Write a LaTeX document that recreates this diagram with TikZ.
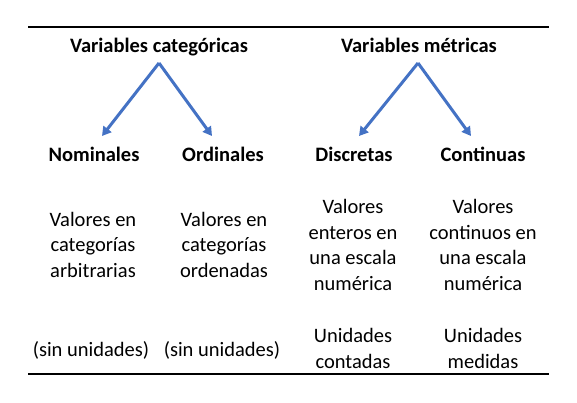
\documentclass[tikz,border=0pt]{standalone}
\usepackage{fontspec}
\setmainfont{Carlito}
\usetikzlibrary{arrows.meta}
\definecolor{arrowblue}{HTML}{4472C4}
\begin{document}
\begin{tikzpicture}[x=1pt,y=-1pt,
  txt/.style={font=\fontsize{20.5}{25.5}\selectfont, align=center, inner sep=0pt, anchor=base},
  head/.style={txt, font=\fontsize{20.5}{25.5}\selectfont\bfseries},
  rule/.style={line width=2pt, black},
  branch/.style={line width=3pt, arrowblue, -{Triangle[length=9pt,width=10pt]}}]
\useasboundingbox (0,0) rectangle (577,402);
\draw[rule] (28,27) coordinate (tl) -- (549,27) coordinate (tr);
\draw[rule] (28,374) coordinate (bl) -- (549,374) coordinate (br);

\node[head] (cat) at (159,52) {Variables categóricas};
\node[head] (met) at (419,52) {Variables métricas};

\node[head] (nom) at (94,161) {Nominales};
\node[head] (ord) at (223,161) {Ordinales};
\node[head] (dis) at (354,161) {Discretas};
\node[head] (con) at (483,161) {Continuas};

\coordinate (apexC) at (159,63);
\coordinate (tipN) at (102,136);
\coordinate (tipO) at (212,136);
\coordinate (apexM) at (418,63);
\coordinate (tipD) at (359,136);
\coordinate (tipK) at (471,136);
\draw[branch] (apexC) -- (tipN);
\draw[branch] (apexC) -- (tipO);
\draw[branch] (apexM) -- (tipD);
\draw[branch] (apexM) -- (tipK);

\node[txt] (nomd) at (93,277) {Valores en\\categorías\\arbitrarias};
\node[txt] (ordd) at (224,277) {Valores en\\categorías\\ordenadas};
\node[txt] (disd) at (353,290) {Valores\\enteros en\\una escala\\numérica};
\node[txt] (cond) at (483,290) {Valores\\continuos en\\una escala\\numérica};

\node[txt] (nomu) at (91,356) {(sin unidades)};
\node[txt] (ordu) at (222,356) {(sin unidades)};
\node[txt] (disu) at (353,368) {Unidades\\contadas};
\node[txt] (conu) at (483,368) {Unidades\\medidas};
\end{tikzpicture}
\end{document}
